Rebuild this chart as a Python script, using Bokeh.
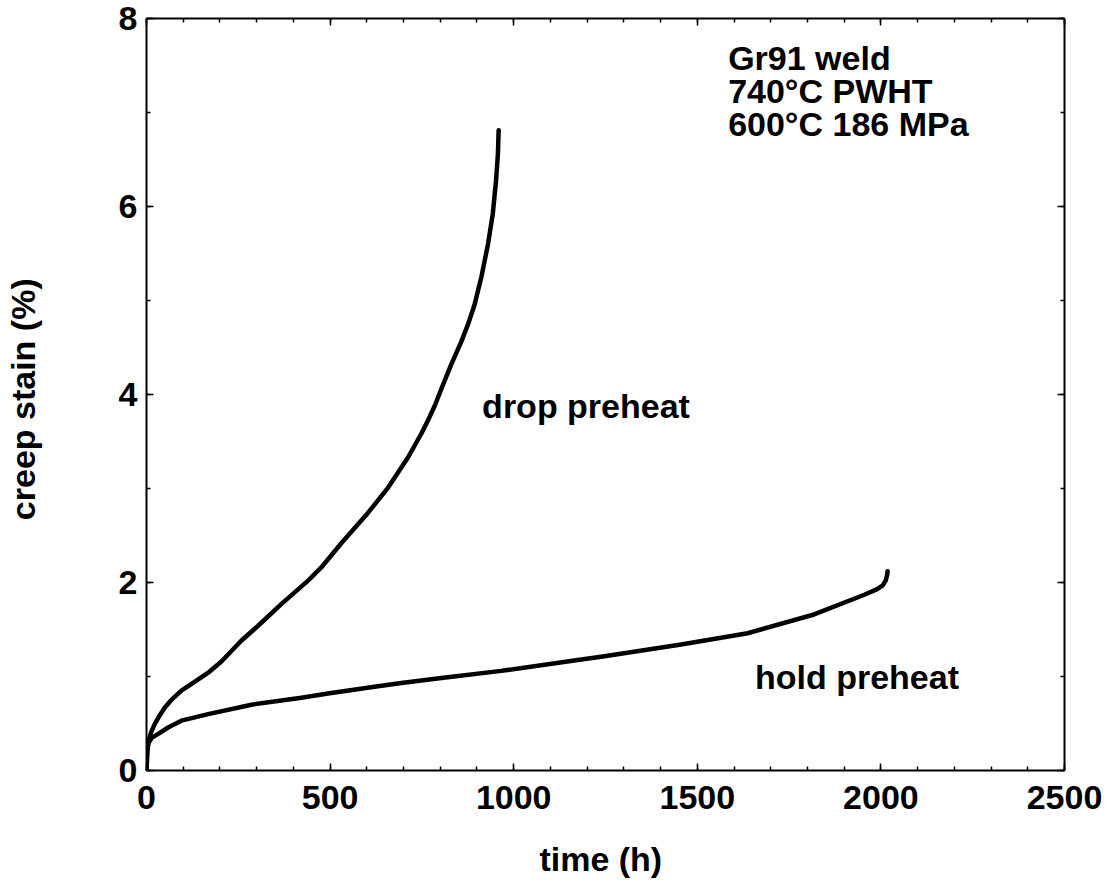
from bokeh.plotting import figure
from bokeh.models import Range1d, LinearAxis, SingleIntervalTicker, Label, CustomJSTickFormatter
from bokeh.embed import file_html
from bokeh.resources import INLINE

# ---- data ----
drop_t = [0, 1, 2, 5, 12, 22, 35, 50, 70, 95, 130, 168, 204, 258, 304, 367, 440,
          476, 531, 603, 658, 712, 748, 767, 785, 805, 830, 857, 875, 893, 912, 930,
          943, 952, 957, 959]
drop_eps = [0, 0.1, 0.2, 0.3, 0.4, 0.49, 0.58, 0.67, 0.76, 0.85, 0.94, 1.04, 1.16,
            1.38, 1.54, 1.77, 2.02, 2.16, 2.42, 2.74, 3.01, 3.33, 3.58, 3.73, 3.88,
            4.08, 4.32, 4.56, 4.74, 4.95, 5.25, 5.60, 5.92, 6.28, 6.56, 6.81]

hold_t = [0, 1, 2, 5, 15, 32, 60, 95, 168, 286, 422, 494, 621, 694, 803, 966, 1184,
          1238, 1456, 1637, 1818, 1955, 1990, 2005, 2013, 2017, 2018]
hold_eps = [0, 0.1, 0.2, 0.29, 0.35, 0.39, 0.46, 0.53, 0.60, 0.70, 0.775, 0.82, 0.89,
            0.93, 0.985, 1.06, 1.18, 1.21, 1.34, 1.46, 1.66, 1.87, 1.93, 1.97, 2.02,
            2.08, 2.12]

x_label = "time  (h)"
y_label = "creep stain  (%)"
note_lines = ["Gr91 weld", "740°C PWHT", "600°C  186 MPa"]
drop_name = "drop preheat"
hold_name = "hold preheat"

FONT = "Liberation Sans"
FS = "34px"

p = figure(width=1110, height=882, output_backend="svg", toolbar_location=None,
           x_range=Range1d(0, 2500), y_range=Range1d(0, 8),
           min_border_left=145, min_border_right=46, min_border_top=18,
           min_border_bottom=112, x_axis_location=None, y_axis_location=None)
p.outline_line_color = None
p.xgrid.visible = False
p.ygrid.visible = False
p.background_fill_color = "white"
p.border_fill_color = "white"

def style_axis(ax, labels):
    ax.axis_line_width = 2
    ax.axis_line_color = "black"
    ax.major_tick_in = 7
    ax.major_tick_out = 0
    ax.minor_tick_in = 4
    ax.minor_tick_out = 0
    ax.major_tick_line_width = 1.5
    ax.minor_tick_line_width = 1.5
    ax.major_tick_line_color = "black"
    ax.minor_tick_line_color = "black"
    if labels:
        ax.major_label_text_font = FONT
        ax.major_label_text_font_style = "bold"
        ax.major_label_text_font_size = FS
        ax.major_label_text_color = "black"
        ax.axis_label_text_font = FONT
        ax.axis_label_text_font_style = "bold"
        ax.axis_label_text_font_size = FS
        ax.axis_label_text_color = "black"
    else:
        ax.formatter = CustomJSTickFormatter(code="return ''")
        ax.major_label_standoff = 0

xb = LinearAxis(ticker=SingleIntervalTicker(interval=500, num_minor_ticks=5))
style_axis(xb, True)
xb.major_label_standoff = 15
xb.axis_label = x_label
xb.axis_label_standoff = 28
xt = LinearAxis(ticker=SingleIntervalTicker(interval=500, num_minor_ticks=5))
style_axis(xt, False)
yl = LinearAxis(ticker=SingleIntervalTicker(interval=2, num_minor_ticks=2))
style_axis(yl, True)
yl.major_label_standoff = 9
yl.axis_label = y_label
yl.axis_label_standoff = 74
yr = LinearAxis(ticker=SingleIntervalTicker(interval=2, num_minor_ticks=2))
style_axis(yr, False)

p.add_layout(xb, "below")
p.add_layout(xt, "above")
p.add_layout(yl, "left")
p.add_layout(yr, "right")

p.line(drop_t, drop_eps, line_width=4.5, line_color="black", line_join="round", line_cap="round")
p.line(hold_t, hold_eps, line_width=4.5, line_color="black", line_join="round", line_cap="round")

def add_label(x, y, text, **kw):
    p.add_layout(Label(x=x, y=y, text=text, text_font=FONT, text_font_style="bold",
                       text_font_size=FS, text_color="black", **kw))

for txt, yy in zip(note_lines, [7.578, 7.226, 6.875]):
    add_label(1584, yy, txt, text_baseline="alphabetic", text_align="left")
add_label(914, 3.88, drop_name, text_baseline="alphabetic", text_align="left")
add_label(1657, 0.996, hold_name, text_baseline="alphabetic", text_align="left")

open("out.html", "w").write(file_html(p, INLINE))
